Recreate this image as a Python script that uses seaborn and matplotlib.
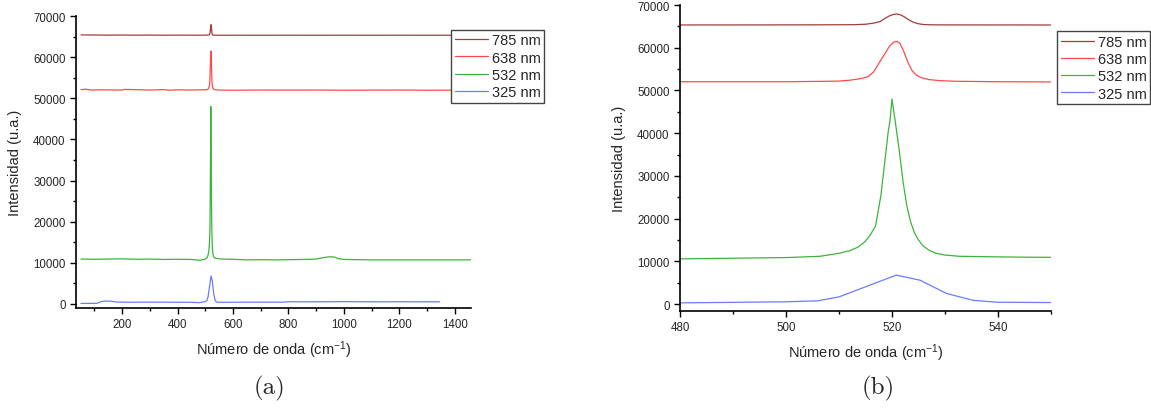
import numpy as np
import pandas as pd
import matplotlib
matplotlib.use("Agg")
import matplotlib.pyplot as plt
from matplotlib.ticker import MultipleLocator
import seaborn as sns

# ---------------- data ----------------
labels = ["785 nm", "638 nm", "532 nm", "325 nm"]
colors = ["#a33c3c", "#ff4a4a", "#3cb43c", "#6a7cff"]

x_785 = [52, 100, 150, 200, 250, 300, 350, 400, 450, 480, 495, 505, 510, 513,
         515, 516.5, 517.7, 518.6, 519.5, 520.3, 520.9, 521.6, 522.3, 523.2,
         524, 524.8, 526, 528, 535, 545, 550, 600, 700, 800,
         900, 1000, 1100, 1200, 1300, 1400, 1460]
y_785 = [65400, 65380, 65350, 65370, 65340, 65360, 65330, 65350, 65340, 65330,
         65340, 65360, 65380, 65400,
         65500, 65750, 66100, 66800, 67450, 67800, 67900, 67700, 67250, 66500,
         66000, 65650, 65420, 65350, 65340, 65330, 65320, 65330, 65320,
         65330, 65320, 65330, 65320, 65330, 65320, 65320, 65320]

x_638 = [52, 70, 90, 110, 200, 210, 300, 350, 370, 400, 450, 480, 500, 508,
         510, 512, 514, 515.5, 516.5, 517.5, 518.5, 519.5, 520.3, 520.9, 521.5,
         522.2, 523, 523.8, 524.6, 525.5, 527, 529, 532, 540, 550,
         600, 700, 800, 900, 1000, 1100, 1200, 1300, 1400, 1460]
y_638 = [52100, 52200, 52000, 52050, 52000, 52150, 52000, 52100, 51950, 52050,
         52000, 52050, 52050, 52150,
         52200, 52400, 52750, 53250, 54300, 56300, 58300, 60300, 61300, 61500,
         61000, 59200, 56600, 54600, 53600, 53000, 52550, 52300, 52150, 52050,
         52000, 51950, 52000, 51980, 52000, 51950, 51980, 52000, 51950, 51980,
         51970]

x_532 = [52, 100, 150, 200, 250, 300, 350, 400, 450, 480, 500, 506.4, 510, 512,
         513.5, 514.8, 515.8, 516.9, 517.9, 518.7, 519.3, 519.6, 520.0, 520.7,
         521.4, 522.1, 522.8, 523.5, 524.2, 525, 525.8, 527, 528.3, 530, 532.7,
         544, 560, 600, 650, 700, 750, 800, 850, 900, 930, 950,
         965, 980, 1000, 1100, 1200, 1300, 1400, 1460]
y_532 = [10900, 10850, 10900, 10950, 10850, 10900, 10800, 10850, 10800, 10600,
         10900, 11200, 11900, 12500,
         13300, 14500, 16000, 18300, 25400, 34000, 40500, 42700, 48000, 42000,
         35600, 28500, 23000, 19300, 16800, 15000, 13700, 12600, 11900, 11500,
         11200, 11000, 10900, 10850, 10700, 10750, 10700, 10750, 10800, 10900,
         11300, 11450, 11400, 11000, 10800, 10700, 10700, 10700, 10700, 10700]

x_325 = [52, 80, 110, 125, 140, 160, 180, 220, 300, 400, 450, 480, 500, 506,
         510, 520.8, 525.3, 530.3, 535.3, 539.8, 550, 570, 600, 700, 780, 800,
         900, 1000, 1100, 1200, 1300, 1345]
y_325 = [100, 120, 150, 550, 700, 650, 450, 400, 420, 400, 380, 300, 550, 780,
         1700, 6800, 5600, 2500, 900, 450, 380, 400, 400, 420, 420, 520, 500,
         550, 500, 520, 500, 500]

xs = [x_785, x_638, x_532, x_325]
ys = [y_785, y_638, y_532, y_325]

x_ticks_a = [200, 400, 600, 800, 1000, 1200, 1400]
x_ticks_b = [480, 500, 520, 540]
y_ticks = [0, 10000, 20000, 30000, 40000, 50000, 60000, 70000]

# ---------------- style ----------------
sns.set_style("ticks")
plt.rcParams["font.family"] = ["Liberation Sans", "DejaVu Sans"]
plt.rcParams["mathtext.fontset"] = "custom"
plt.rcParams["mathtext.rm"] = "Liberation Sans"
plt.rcParams["mathtext.it"] = "Liberation Sans:italic"

W, H = 1151, 414
fig = plt.figure(figsize=(W / 100, H / 100), dpi=100)
fig.patch.set_facecolor("white")


def px_axes(l, r, t, b):
    return fig.add_axes([l / W, 1 - b / H, (r - l) / W, (b - t) / H])


ax_a = px_axes(76, 471, 17, 309)
ax_b = px_axes(680, 1051, 6, 312)

frames = []
for lab, x, y in zip(labels, xs, ys):
    frames.append(pd.DataFrame({"x": x, "y": y, "laser": lab}))
df = pd.concat(frames, ignore_index=True)

for ax in (ax_a, ax_b):
    for lab, col in zip(labels, colors):
        sub = df[df["laser"] == lab]
        sns.lineplot(data=sub, x="x", y="y", ax=ax, color=col, lw=0.9,
                     label=lab, sort=False, estimator=None, legend=False)

ax_a.set_xlim(34, 1458)
ax_a.set_ylim(-1000, 70000)
ax_b.set_xlim(480, 550)
ax_b.set_ylim(-1600, 70000)

ax_a.set_xticks(x_ticks_a)
ax_a.xaxis.set_minor_locator(MultipleLocator(100))
ax_b.set_xticks(x_ticks_b)
ax_b.xaxis.set_minor_locator(MultipleLocator(10))

for ax in (ax_a, ax_b):
    ax.set_yticks(y_ticks)
    ax.yaxis.set_minor_locator(MultipleLocator(5000))
    ax.set_xlabel("Número de onda (cm$^{-1}$)", fontsize=10.5, labelpad=6)
    ax.set_ylabel("Intensidad (u.a.)", fontsize=10.5, labelpad=8)
    ax.tick_params(which="major", direction="out", length=4.5, width=1.0,
                   labelsize=8.3, pad=3, color="black")
    ax.tick_params(which="minor", direction="out", length=2.5, width=1.0,
                   color="black")
    for s in ("top", "right"):
        ax.spines[s].set_visible(False)
    for s in ("left", "bottom"):
        ax.spines[s].set_linewidth(1.2)
        ax.spines[s].set_color("black")
    ax.grid(False)

# legends
handles = [plt.Line2D([], [], color=c, lw=0.9) for c in colors]
for ax, (lx, ly) in ((ax_a, (451, 30.7)), (ax_b, (1057, 32.3))):
    leg = ax.legend(handles, labels, loc="upper left",
                    bbox_to_anchor=(lx / W, 1 - ly / H),
                    bbox_transform=fig.transFigure, fontsize=10.5,
                    frameon=True, fancybox=False, framealpha=1,
                    edgecolor="#444444", borderpad=0.25, labelspacing=0.22,
                    handlelength=2.3, handletextpad=0.25, borderaxespad=0)
    leg.get_frame().set_linewidth(1.0)

# captions
fig.text(270 / W, 1 - 388 / H, "(a)", family="cmr10", fontsize=18,
         ha="center", va="center")
fig.text(878 / W, 1 - 388 / H, "(b)", family="cmr10", fontsize=18,
         ha="center", va="center")

fig.savefig("out.png", dpi=100, facecolor="white")
